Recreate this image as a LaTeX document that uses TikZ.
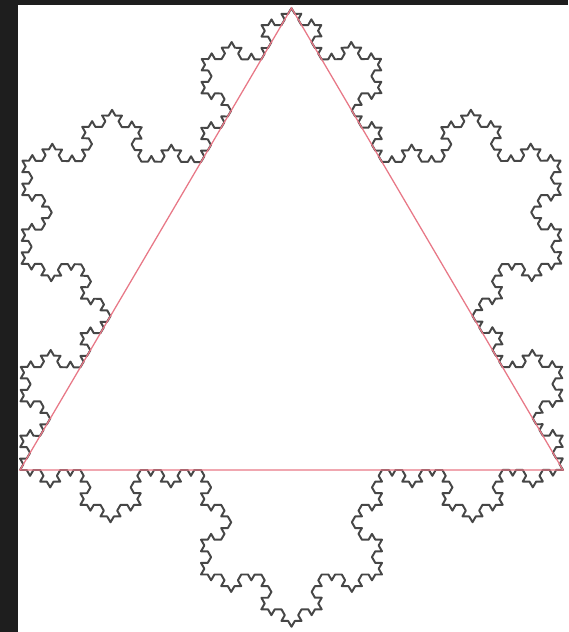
\documentclass[tikz,border=0pt]{standalone}
\usepackage{xcolor}
\usepackage{tikz}
\usetikzlibrary{decorations.fractals}
\definecolor{FrameDark}{RGB}{30,30,30}
\definecolor{FlakeGray}{RGB}{70,70,70}
\definecolor{TriRed}{RGB}{232,120,135}
\tikzset{
  flake/.style={draw=FlakeGray, line width=1.4pt, line join=round},
  tri/.style={draw=TriRed, line width=0.9pt},
  frame/.style={fill=FrameDark, draw=none},
}

\begin{document}
\begin{tikzpicture}[x=0.025cm, y=-0.025cm]
  \useasboundingbox (0,0) rectangle (568,632);
  \fill[white] (0,0) rectangle (568,632);
  \fill[frame] (0,0) rectangle (18,632);
  \fill[frame] (0,0) rectangle (568,5);
  % triangle corners
  \coordinate (left) at (20,470);
  \coordinate (right) at (563,470);
  \coordinate (top) at (291.5,8);
  % snowflake, level 4
  \draw[flake] decorate[decoration=Koch snowflake]{decorate{decorate{decorate{
    (left) -- (top) -- (right) -- cycle}}}};
  \draw[tri] (left) -- (right) -- (top) -- cycle;
\end{tikzpicture}
\end{document}
